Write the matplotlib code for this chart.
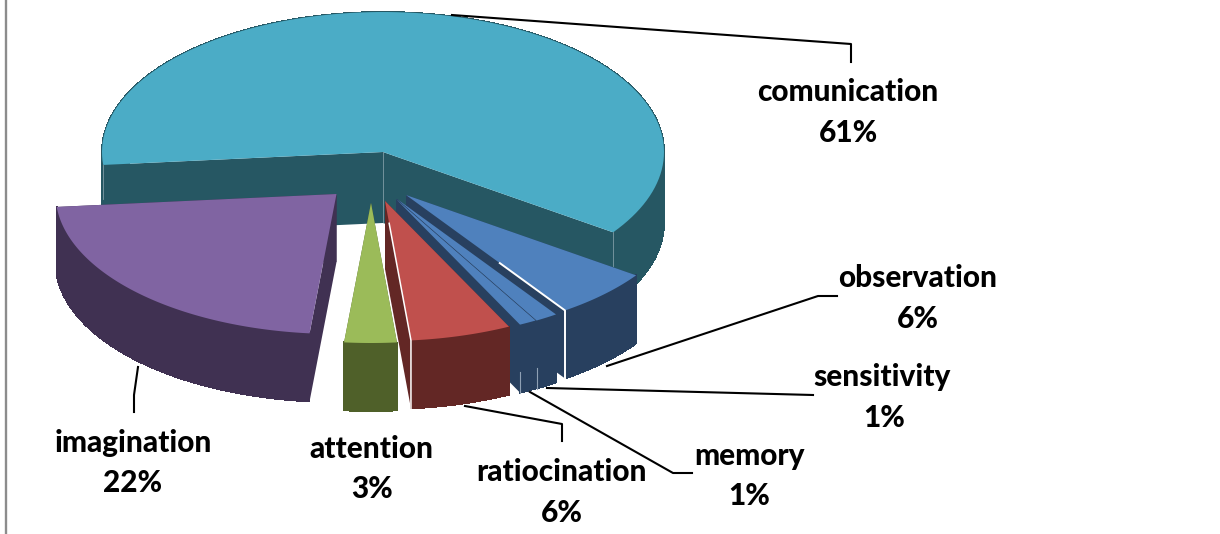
import numpy as np
import matplotlib.pyplot as plt
from matplotlib.collections import PolyCollection

# shares, labels as printed on the chart
categories = ['comunication', 'observation', 'sensitivity', 'memory',
              'ratiocination', 'attention', 'imagination']
values = [61.2, 5.7, 1.3, 1.0, 5.8, 3.0, 22.0]
percent_labels = ['61%', '6%', '1%', '1%', '6%', '3%', '22%']

top_colors = ['#4BACC6', '#4F81BD', '#4F81BD', '#4F81BD', '#C0504D', '#9BBB59', '#8064A2']
side_colors = ['#265763', '#28405F', '#28405F', '#28405F', '#632725', '#4F6029', '#403152']

# layout, all in image pixels
apexes = [(383, 152), (406, 195), (397, 199), (396, 199), (385, 201), (371, 203), (336.5, 194)]
label_pos = [(848, 92), (918, 278), (882, 377), (749, 456), (561, 472), (371, 449), (133, 443)]
value_pos = [(848, 133), (918, 319), (884, 418), (749, 496), (562, 513), (372, 489), (133, 483)]
leaders = [
    [(452, 15), (851, 44), (851, 62)],
    [(607, 366), (818, 296), (837, 296)],
    [(547, 388), (813, 395)],
    [(530, 392), (673, 473), (692, 473)],
    [(465, 406), (562, 424), (562, 441)],
    None,
    [(138, 367), (134, 395), (134, 412)],
]
RX, RY, DEPTH = 281, 140, 68
START_ANGLE = 185.3


def arc_points(apex, a0, a1, n=120):
    t = np.radians(np.linspace(a0, a1, n))
    return np.column_stack([apex[0] + RX * np.cos(t), apex[1] - RY * np.sin(t)])


def draw_slice(ax, apex, a0, a1, top, side, depth):
    arc = arc_points(apex, a0, a1)
    drop = np.array([0, depth])
    tip = np.array(apex, dtype=float)
    # radial walls first, the outer wall and top face paint over hidden parts
    for p in (arc[0], arc[-1]):
        ax.fill(*zip(tip, p, p + drop, tip + drop), color=side, lw=0)
    quads = [[arc[i], arc[i + 1], arc[i + 1] + drop, arc[i] + drop] for i in range(len(arc) - 1)]
    ax.add_collection(PolyCollection(quads, facecolors=side, edgecolors=side,
                                     linewidths=0.6, antialiaseds=False))
    ax.fill(*zip(tip, *arc), color=top, lw=0)
    return arc


fig = plt.figure(figsize=(12.2, 5.34), dpi=100)
ax = fig.add_axes([0, 0, 1, 1])
ax.set_xlim(0, 1220)
ax.set_ylim(534, 0)
ax.axis('off')

ax.plot([6, 6], [0, 534], color='#8C8C8C', lw=1.7, solid_capstyle='butt')

angles = START_ANGLE - np.concatenate([[0], np.cumsum(values)]) * 3.6
arcs = []
for i in range(len(values)):
    depth = DEPTH + 3 if i == 0 else DEPTH
    arcs.append(draw_slice(ax, apexes[i], angles[i], angles[i + 1], top_colors[i], side_colors[i], depth))

# white highlights along the exploded edges
tip = np.array(apexes[1], dtype=float)
end = arcs[1][-1]
mid = tip + 0.59 * (end - tip)
ax.plot([mid[0], end[0], end[0]], [mid[1], end[1], end[1] + DEPTH], color='white', lw=1.4)

tip = np.array(apexes[4], dtype=float)
end = arcs[4][-1]
mid = tip + 0.16 * (end - tip)
ax.plot([mid[0], end[0], end[0]], [mid[1], end[1], end[1] + DEPTH], color='white', lw=1.1)

# faint seams on the walls
for i, frac in ((0, 0), (0, 1)):
    p = arcs[i][-1 if frac else 0]
    ax.plot([p[0], p[0]], [p[1], p[1] + 34], color='#7F9CA5', lw=0.6)
ax.plot([apexes[0][0]] * 2, [apexes[0][1], apexes[0][1] + 70], color='#7F9CA5', lw=0.6)
for i in (2, 3):
    p = arcs[i][-1]
    ax.plot([p[0], p[0]], [p[1] + 47, p[1] + DEPTH], color='#8FA0B4', lw=0.8)

for line in leaders:
    if line is not None:
        ax.plot(*zip(*line), color='black', lw=1.5)

for name, pct, lp, vp in zip(categories, percent_labels, label_pos, value_pos):
    ax.text(*lp, name, ha='center', va='center', family='Lato', weight='black', fontsize=21.4)
    ax.text(*vp, pct, ha='center', va='center', family='Lato', weight='black', fontsize=21.4)

fig.savefig('out.png', dpi=100)
